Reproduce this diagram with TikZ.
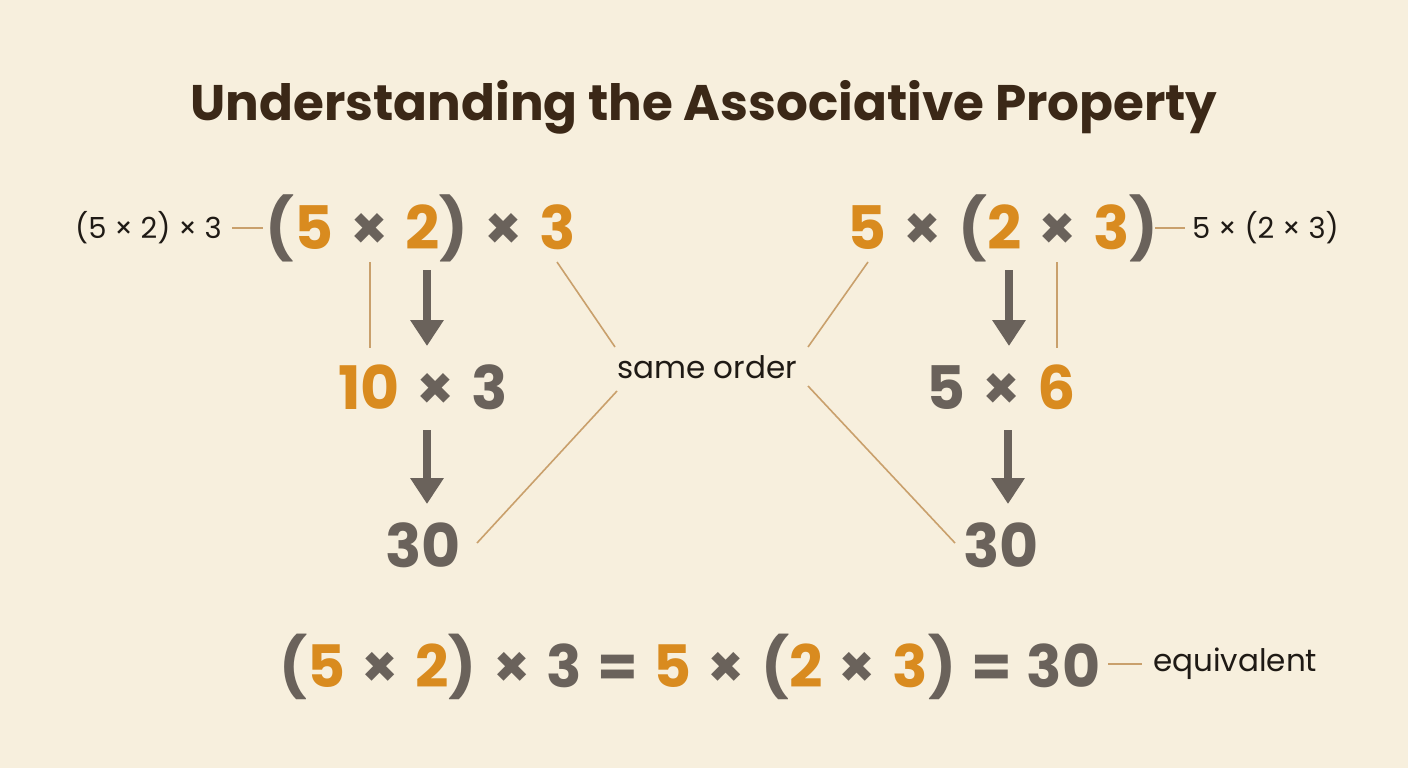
\documentclass[tikz,border=0pt]{standalone}
\usepackage{fontspec}
\setmainfont{Poppins}
\usetikzlibrary{arrows.meta}
\definecolor{bg}{HTML}{F7EFDD}
\definecolor{org}{HTML}{D98B1F}
\definecolor{gry}{HTML}{6A625B}
\definecolor{ttl}{HTML}{3B2817}
\definecolor{tan}{HTML}{C9A06C}
\definecolor{ink}{HTML}{1F1A15}
\newcommand\og[1]{\textcolor{org}{#1}}
\newcommand\tm{\hspace{0.28em}×\hspace{0.28em}}
\newcommand\eqs{\hspace{0.26em}=\hspace{0.26em}}
\begin{document}
\begin{tikzpicture}[x=1pt,y=-1pt,
  big/.style={font=\fontsize{60}{64}\selectfont\bfseries, text=gry, inner sep=0pt},
  small/.style={font=\fontsize{29}{32}\selectfont, text=ink, inner sep=0pt},
  title/.style={font=\fontsize{50}{56}\selectfont\bfseries, text=ttl, inner sep=0pt},
  conn/.style={draw=tan, line width=1.6pt},
  flow/.style={draw=gry, line width=8pt, -{Triangle[width=32pt,length=26pt]}}]
\fill[bg] (0,0) rectangle (1408,768);
\useasboundingbox (0,0) rectangle (1408,768);

\node[title, anchor=base] (T) at (704,120) {Understanding the Associative Property};

% left column
\node[big, anchor=base] (L1) at (421,249) {(\og{5}\tm\og{2})\tm\og{3}};
\node[small, anchor=east] (LL) at (222,228) {(5 × 2) × 3};
\node[big, anchor=base] (L2) at (423,409) {\og{10}\tm3};
\node[big, anchor=base] (L3) at (423,567) {30};

% right column
\node[big, anchor=base] (R1) at (1003,249) {\og{5}\tm(\og{2}\tm\og{3})};
\node[small, anchor=west] (RL) at (1192,228) {5 × (2 × 3)};
\node[big, anchor=base] (R2) at (1001,409) {5\tm\og{6}};
\node[big, anchor=base] (R3) at (1001,567) {30};

% middle
\node[small, font=\fontsize{31}{34}\selectfont] (S) at (707,367) {same order};

% bottom
\node[big, anchor=base, font=\fontsize{58.5}{62}\selectfont\bfseries] (B) at (690,687) {(\og{5}\tm\og{2})\tm3\eqs\og{5}\tm(\og{2}\tm\og{3})\eqs30};
\node[small, anchor=west, font=\fontsize{31}{34}\selectfont] (E) at (1153,664) {equivalent};

% label connectors
\coordinate (la) at (232,228); \coordinate (lb) at (263,228);
\draw[conn] (la) -- (lb);
\coordinate (ra) at (1155,228); \coordinate (rb) at (1185,228);
\draw[conn] (ra) -- (rb);
\coordinate (ea) at (1108,664); \coordinate (eb) at (1142,664);
\draw[conn] (ea) -- (eb);

% vertical thin lines
\coordinate (lv1) at (370,262); \coordinate (lv2) at (370,348);
\draw[conn] (lv1) -- (lv2);
\coordinate (rv1) at (1057,262); \coordinate (rv2) at (1057,348);
\draw[conn] (rv1) -- (rv2);

% flow arrows
\coordinate (a1) at (427,270); \coordinate (a2) at (427,346);
\draw[flow] (a1) -- (a2);
\coordinate (a3) at (427,430); \coordinate (a4) at (427,504);
\draw[flow] (a3) -- (a4);
\coordinate (b1) at (1009,270); \coordinate (b2) at (1009,346);
\draw[flow] (b1) -- (b2);
\coordinate (b3) at (1008,430); \coordinate (b4) at (1008,504);
\draw[flow] (b3) -- (b4);

% same order lines
\coordinate (s1) at (557,262); \coordinate (s2) at (615,347);
\draw[conn] (s1) -- (s2);
\coordinate (s3) at (617,391); \coordinate (s4) at (477,543);
\draw[conn] (s3) -- (s4);
\coordinate (s5) at (868,262); \coordinate (s6) at (808,347);
\draw[conn] (s5) -- (s6);
\coordinate (s7) at (808,386); \coordinate (s8) at (955,543);
\draw[conn] (s7) -- (s8);
\end{tikzpicture}
\end{document}
